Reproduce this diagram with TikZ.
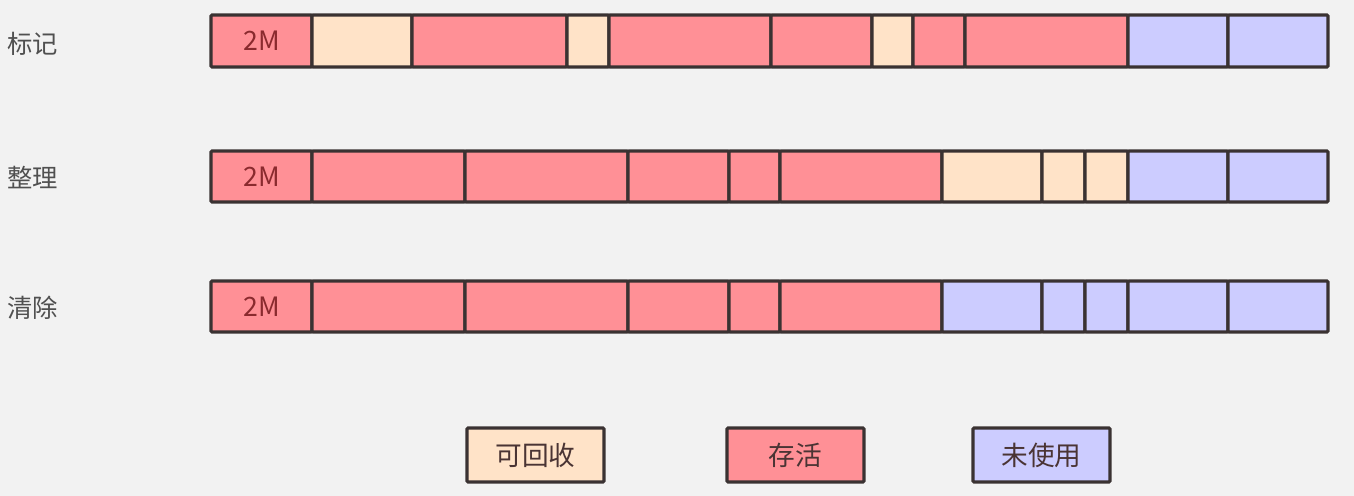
\documentclass[tikz,border=0pt]{standalone}
\usepackage{fontspec}
\setmainfont{Noto Sans CJK SC}
\definecolor{bg}{HTML}{F2F2F2}
\definecolor{live}{HTML}{FF9096}
\definecolor{reclaim}{HTML}{FFE3C8}
\definecolor{unused}{HTML}{CCCCFF}
\definecolor{edge}{HTML}{3A3232}
\definecolor{labelgray}{HTML}{505050}
\definecolor{mtext}{HTML}{8A2A2E}
\definecolor{legtext}{HTML}{4A3434}
\newcommand\memcell[6]{\node[cellbox,fill=#6,minimum width={(#3-#2)*0.75pt},minimum height={(#5-#4)*0.75pt}] (#1) at ({(#2+#3)/2},{(#4+#5)/2}) {};}
\begin{document}
\begin{tikzpicture}[x=0.75pt,y=-0.75pt,
  cellbox/.style={draw=edge,line width=2.3pt,inner sep=0pt,outer sep=0pt,rounded corners=0.8pt},
  rowlabel/.style={anchor=west,inner sep=0pt,text=labelgray,font=\fontsize{19}{21}\selectfont},
  sizetext/.style={text=mtext,font=\fontsize{20}{22}\selectfont,inner sep=0pt},
  legbox/.style={cellbox,text=legtext,font=\fontsize{20}{22}\selectfont,minimum width={137*0.75pt},minimum height={54*0.75pt}}]
\useasboundingbox[fill=bg] (0,0) rectangle (1354,496);
% row labels
\node[rowlabel] (lmark) at (7,44) {标记};
\node[rowlabel] (lcompact) at (7,178) {整理};
\node[rowlabel] (lsweep) at (7,308) {清除};
% row 1
\memcell{a1}{211}{312}{15}{67}{live}
\memcell{a2}{312}{412}{15}{67}{reclaim}
\memcell{a3}{412}{567}{15}{67}{live}
\memcell{a4}{567}{609}{15}{67}{reclaim}
\memcell{a5}{609}{771}{15}{67}{live}
\memcell{a6}{771}{872}{15}{67}{live}
\memcell{a7}{872}{913}{15}{67}{reclaim}
\memcell{a8}{913}{965}{15}{67}{live}
\memcell{a9}{965}{1128}{15}{67}{live}
\memcell{a10}{1128}{1228}{15}{67}{unused}
\memcell{a11}{1228}{1328}{15}{67}{unused}
\node[sizetext] (a1t) at (a1) {2M};
% row 2
\memcell{b1}{211}{312}{151}{202}{live}
\memcell{b2}{312}{465}{151}{202}{live}
\memcell{b3}{465}{628}{151}{202}{live}
\memcell{b4}{628}{729}{151}{202}{live}
\memcell{b5}{729}{780}{151}{202}{live}
\memcell{b6}{780}{942}{151}{202}{live}
\memcell{b7}{942}{1042}{151}{202}{reclaim}
\memcell{b8}{1042}{1085}{151}{202}{reclaim}
\memcell{b9}{1085}{1128}{151}{202}{reclaim}
\memcell{b10}{1128}{1228}{151}{202}{unused}
\memcell{b11}{1228}{1328}{151}{202}{unused}
\node[sizetext] (b1t) at (b1) {2M};
% row 3
\memcell{c1}{211}{312}{281}{332}{live}
\memcell{c2}{312}{465}{281}{332}{live}
\memcell{c3}{465}{628}{281}{332}{live}
\memcell{c4}{628}{729}{281}{332}{live}
\memcell{c5}{729}{780}{281}{332}{live}
\memcell{c6}{780}{942}{281}{332}{live}
\memcell{c7}{942}{1042}{281}{332}{unused}
\memcell{c8}{1042}{1085}{281}{332}{unused}
\memcell{c9}{1085}{1128}{281}{332}{unused}
\memcell{c10}{1128}{1228}{281}{332}{unused}
\memcell{c11}{1228}{1328}{281}{332}{unused}
\node[sizetext] (c1t) at (c1) {2M};
% legend
\node[legbox,fill=reclaim] (legreclaim) at (535.5,455) {可回收};
\node[legbox,fill=live] (leglive) at (795.5,455) {存活};
\node[legbox,fill=unused] (legunused) at (1041.5,455) {未使用};
\end{tikzpicture}
\end{document}
